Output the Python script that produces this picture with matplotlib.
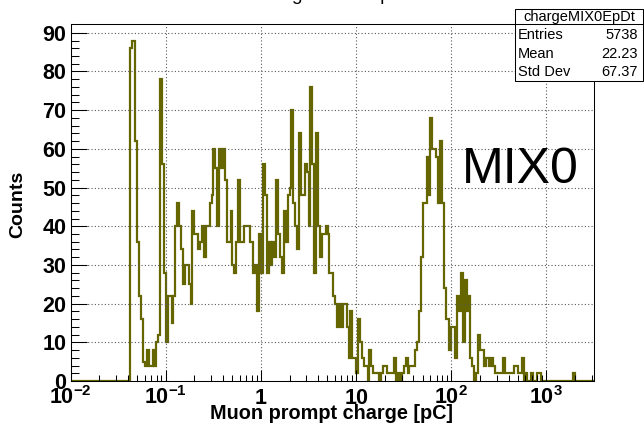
import numpy as np
import matplotlib
matplotlib.use("Agg")
import matplotlib.pyplot as plt
from matplotlib.patches import Rectangle
from matplotlib.lines import Line2D
from matplotlib.ticker import FixedLocator, NullFormatter

plt.rcParams["font.family"] = ["Liberation Sans", "DejaVu Sans"]
plt.rcParams["mathtext.fontset"] = "custom"
plt.rcParams["mathtext.rm"] = "Liberation Sans:bold"
plt.rcParams["mathtext.bf"] = "Liberation Sans:bold"
plt.rcParams["mathtext.it"] = "Liberation Sans:bold"

# log binning: 50 bins per decade from 1e-2 to 10^3.5 pC
n_bins = 275
x_min, x_max = 1e-2, 10 ** 3.5

# bin contents, low to high charge
counts = [0] * 31 + [
    86, 88, 88, 62, 36, 22, 16, 5, 4, 8,
    4, 4, 8, 4, 10, 12, 78, 56, 28, 10,
    22, 22, 15, 22, 40, 46, 40, 34, 25, 30,
    30, 25, 20, 44, 38, 38, 34, 36, 40, 32,
    40, 40, 46, 48, 60, 55, 40, 60, 55, 60,
    52, 36, 36, 44, 30, 28, 36, 52, 36, 36,
    40, 40, 40, 36, 36, 28, 30, 18, 38, 28,
    56, 48, 28, 36, 30, 36, 32, 52, 38, 32,
    28, 44, 36, 48, 50, 70, 46, 40, 34, 64,
    48, 48, 56, 54, 40, 76, 56, 28, 64, 40,
    32, 38, 38, 40, 38, 28, 28, 22, 20, 14,
    20, 14, 20, 20, 14, 6, 18, 6, 6, 2,
    16, 10, 6, 4, 4, 0, 8, 4, 2, 2,
    2, 0, 2, 4, 4, 2, 2, 2, 2, 6,
    0, 2, 0, 2, 4, 6, 2, 4, 4, 4,
    8, 10, 18, 32, 46, 46, 58, 48, 68, 60,
    60, 58, 46, 62, 46, 24, 16, 16, 8, 14,
    14, 6, 22, 18, 28, 10, 26, 18, 22, 6,
    4, 0, 2, 12, 8, 8, 4, 6, 6, 4,
    6, 4, 2, 2, 2, 2, 6, 2, 2, 2,
    2, 2, 4, 4, 2, 2, 6, 0, 2, 0,
    0, 2, 0, 0, 2, 2, 0, 0, 0, 0,
    0, 0, 0, 0, 0, 0, 0, 0, 0, 0,
    0, 0, 0, 2, 0, 0, 0, 0, 0, 0,
    0, 0, 0, 0,
]

hist_name = "chargeMIX0EpDt"
hist_title = "charge MIX0 EpDt"
stats = [("Entries", "5738"), ("Mean", "22.23"), ("Std Dev", "67.37")]

x_ticks = [1e-2, 1e-1, 1, 10, 1e2, 1e3]
x_tick_labels = [r"$10^{-2}$", r"$10^{-1}$", "1", "10", r"$10^{2}$", r"$10^{3}$"]
y_ticks = list(range(0, 100, 10))

W, H = 644, 429


def fx(x):
    return x / W


def fy(y):
    return 1 - y / H


fig = plt.figure(figsize=(W / 100, H / 100), dpi=100)
ax = fig.add_axes([fx(70.7), fy(381), (594 - 70.7) / W, (381 - 23.5) / H])

edges = np.logspace(np.log10(x_min), np.log10(x_max), n_bins + 1)
ax.stairs(counts, edges, color="#666600", lw=1.6, baseline=0)

ax.set_xscale("log")
ax.set_xlim(x_min, x_max)
ax.set_ylim(0, 92.4)

minor = [m * 10.0 ** e for e in range(-2, 4) for m in range(2, 10) if m * 10.0 ** e < x_max]
ax.xaxis.set_major_locator(FixedLocator(x_ticks))
ax.xaxis.set_minor_locator(FixedLocator(minor))
ax.xaxis.set_minor_formatter(NullFormatter())
ax.set_xticklabels(x_tick_labels)
ax.set_yticks(y_ticks)
ax.yaxis.set_minor_locator(FixedLocator(np.arange(0, 92, 2)))

ax.grid(True, which="major", color="0.35", linestyle=(0, (1, 2)), lw=0.8)
ax.tick_params(which="both", direction="in", top=False, right=False, width=0.75, labelsize=15.5)
ax.tick_params(axis="y", which="major", length=11.5, pad=3.2)
ax.tick_params(axis="y", which="minor", length=5.8)
ax.tick_params(axis="x", which="major", length=8, pad=16.5)
ax.tick_params(axis="x", which="minor", length=4.3)
for lbl in ax.get_xticklabels():
    lbl.set_fontweight("bold")
    lbl.set_va("baseline")
for lbl in ax.get_yticklabels():
    lbl.set_fontweight("bold")
for s in ax.spines.values():
    s.set_linewidth(0.75)

fig.text(fx(331), fy(419), "Muon prompt charge [pC]", ha="center", va="baseline",
         fontsize=14.3, fontweight="bold")
fig.text(fx(18), fy(204), "Counts", ha="center", va="center", rotation=90,
         fontsize=14, fontweight="bold")

# title sits mostly above the canvas
fig.text(fx(332), fy(0.5), hist_title, ha="center", va="baseline", fontsize=13.7)

fig.text(fx(462), fy(183), "MIX0", ha="left", va="baseline", fontsize=36)

# stats box
box = Rectangle((fx(515), fy(81)), (643 - 515) / W, (81 - 9) / H, transform=fig.transFigure,
                facecolor="white", edgecolor="black", lw=0.75, zorder=5)
fig.add_artist(box)
fig.add_artist(Line2D([fx(515), fx(643)], [fy(24), fy(24)], transform=fig.transFigure,
                      color="black", lw=0.75, zorder=6))
fig.text(fx(579), fy(16.5), hist_name, ha="center", va="center", fontsize=10.5, zorder=7)
for i, (name, val) in enumerate(stats):
    yy = 35 + i * 18.5
    fig.text(fx(518), fy(yy), name, ha="left", va="center", fontsize=10.5, zorder=7)
    fig.text(fx(638), fy(yy), val, ha="right", va="center", fontsize=10.5, zorder=7)

fig.savefig("out.png", dpi=100)
